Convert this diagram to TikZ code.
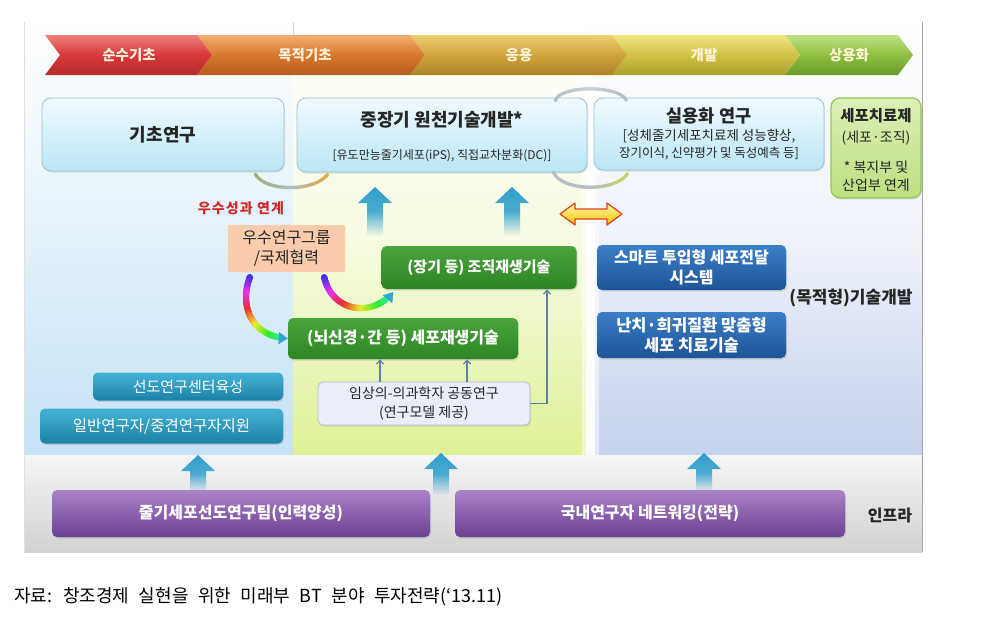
\documentclass[tikz,border=0pt]{standalone}
\usepackage{fontspec}
\setmainfont{Noto Sans CJK KR}
\usetikzlibrary{shadows,fadings,decorations.markings,arrows.meta,calc}

\definecolor{txtdark}{HTML}{262626}
\definecolor{lpanelB}{HTML}{C6E2F5}
\definecolor{mpanelT}{HTML}{F6FBE2}
\definecolor{mpanelB}{HTML}{DFF197}
\definecolor{rpanelT}{HTML}{EEF2FA}
\definecolor{rpanelB}{HTML}{C5D2EC}
\definecolor{bandT}{HTML}{F5F5F5}
\definecolor{bandB}{HTML}{D2D2D2}
\definecolor{boxT}{HTML}{F0FAFE}
\definecolor{boxB}{HTML}{BBE6F5}
\definecolor{boxD}{HTML}{9DC3D2}
\definecolor{gboxT}{HTML}{DDF0B6}
\definecolor{gboxB}{HTML}{BCDF80}
\definecolor{gboxD}{HTML}{94C456}
\definecolor{peach}{HTML}{F8CCAD}
\definecolor{dgT}{HTML}{4BA53C}
\definecolor{dgB}{HTML}{2C8424}
\definecolor{blT}{HTML}{3C7EC7}
\definecolor{blB}{HTML}{1D5497}
\definecolor{tlT}{HTML}{45B3D6}
\definecolor{tlB}{HTML}{1B82A6}
\definecolor{puT}{HTML}{A983C8}
\definecolor{puB}{HTML}{6C3F92}
\definecolor{lav}{HTML}{EAEEF8}
\definecolor{lavD}{HTML}{B2BDD6}
\definecolor{arrowblue}{HTML}{2F9ECC}
\definecolor{redtxt}{HTML}{D22828}
\definecolor{thinblue}{HTML}{5A82A6}
\definecolor{chevtxt}{HTML}{FFF3DA}
\definecolor{rbend}{HTML}{2BA6D8}
\definecolor{rdT}{HTML}{EE7F78}\definecolor{rdM}{HTML}{D8383A}\definecolor{rdB}{HTML}{B52A2C}
\definecolor{orT}{HTML}{F2AE70}\definecolor{orM}{HTML}{D8782E}\definecolor{orB}{HTML}{B55D20}
\definecolor{gdT}{HTML}{EDCF72}\definecolor{gdM}{HTML}{D0A33A}\definecolor{gdB}{HTML}{AD8327}
\definecolor{ylT}{HTML}{EDE484}\definecolor{ylM}{HTML}{D0C246}\definecolor{ylB}{HTML}{ABA02E}
\definecolor{grT}{HTML}{C2E088}\definecolor{grM}{HTML}{8EBF40}\definecolor{grB}{HTML}{6B9A2A}
\definecolor{yarT}{HTML}{FFFAA8}\definecolor{yarB}{HTML}{F4C200}\definecolor{yarD}{HTML}{E0401C}
\definecolor{arcG}{HTML}{9AAE66}\definecolor{arcM}{HTML}{B4BEC6}
\definecolor{arcO}{HTML}{E8A435}\definecolor{arcY}{HTML}{CCD55A}

\newcommand\fsz[2]{\fontsize{#1}{#2}\selectfont}

\tikzfading[name=upfade, top color=transparent!0, bottom color=transparent!100, middle color=transparent!15]

\newcommand\chev[5]{%
  \shade[top color=#3, bottom color=#5, middle color=#4]
    (#1,35) -- (#2,35) -- ({#2+15},55) -- (#2,75) -- (#1,75) -- ({#1+15},55) -- cycle;}

\newcommand\blockup[3]{%
  \fill[arrowblue, path fading=upfade] (#1,#2) -- ({#1+17},{#2+16}) -- ({#1+8},{#2+16})
    -- ({#1+8},#3) -- ({#1-8},#3) -- ({#1-8},{#2+16}) -- ({#1-17},{#2+16}) -- cycle;}

\tikzset{
  base/.style={inner sep=0pt, text=txtdark},
  topbox/.style={base, rounded corners=9pt, draw=boxD, line width=0.8pt,
    top color=boxT, bottom color=boxB,
    drop shadow={opacity=0.22, shadow xshift=1pt, shadow yshift=-1.5pt}},
  greenbox/.style={base, rounded corners=9pt, draw=gboxD, line width=1.2pt,
    top color=gboxT, bottom color=gboxB,
    drop shadow={opacity=0.2, shadow xshift=1pt, shadow yshift=-1.5pt}},
  peachbox/.style={base, rounded corners=2pt, fill=peach, align=center},
  dgbox/.style={base, rounded corners=5pt, top color=dgT, bottom color=dgB, text=white,
    drop shadow={opacity=0.25, shadow xshift=1pt, shadow yshift=-1.5pt}},
  blbox/.style={base, rounded corners=5pt, top color=blT, bottom color=blB, text=white, align=center,
    drop shadow={opacity=0.25, shadow xshift=1pt, shadow yshift=-1.5pt}},
  tlbox/.style={base, rounded corners=5pt, top color=tlT, bottom color=tlB, text=white,
    drop shadow={opacity=0.25, shadow xshift=1pt, shadow yshift=-1.5pt}},
  pubox/.style={base, rounded corners=5pt, top color=puT, bottom color=puB, text=white,
    drop shadow={opacity=0.25, shadow xshift=1pt, shadow yshift=-1.5pt}},
  lavbox/.style={base, rounded corners=5pt, draw=lavD, line width=0.8pt, fill=lav, align=center,
    drop shadow={opacity=0.2, shadow xshift=1pt, shadow yshift=-1.5pt}},
  chevlabel/.style={base, text=chevtxt, font=\fsz{14.5}{15}\bfseries},
  thinarr/.style={draw=thinblue, line width=1.2pt, -{Straight Barb[length=4pt,width=7pt]}},
  rainbow/.style={postaction={decorate,decoration={markings,
    mark=between positions 0 and 0.88 step 0.8pt with {%
      \pgfmathsetmacro\rbt{\pgfkeysvalueof{/pgf/decoration/mark info/distance from start}/\pgfdecoratedpathlength}%
      \pgfmathsetmacro\rbh{mod(240+300*\rbt,360)}%
      \definecolor{rbc}{Hsb}{\rbh,0.8,0.92}%
      \fill[rbc] (0,0) circle (3.2pt);},
    mark=at position 1 with {\arrow[color=rbend]{Triangle[length=9pt,width=12pt]}}}}},
  grayarc/.style n args={3}{postaction={decorate,decoration={markings,
    mark=between positions 0 and 1 step 0.8pt with {%
      \pgfmathsetmacro\rbt{100*\pgfkeysvalueof{/pgf/decoration/mark info/distance from start}/\pgfdecoratedpathlength}%
      \pgfmathsetmacro\mxa{max(0,min(100,2*\rbt))}%
      \pgfmathsetmacro\mxb{max(0,min(100,2*\rbt-100))}%
      \colorlet{gtmp}{#2!\mxa!#1}%
      \colorlet{gac}{#3!\mxb!gtmp}%
      \fill[gac] (0,0) circle (1.8pt);}}}},
}

\begin{document}
\begin{tikzpicture}[x=1pt,y=-1pt]
\useasboundingbox (0,0) rectangle (990,621);
\fill[white] (0,0) rectangle (990,621);

% panels
\shade[top color=white, bottom color=lpanelB] (24,22) rectangle (293,455);
\shade[top color=white, bottom color=mpanelB, middle color=mpanelT] (293,22) rectangle (590,455);
\shade[top color=white, bottom color=rpanelB, middle color=rpanelT] (590,22) rectangle (922,455);
\shade[top color=bandT, bottom color=bandB] (24,455) rectangle (922,552);
\fill[white, opacity=0.5] (582,80) rectangle (599,455);
\fill[white, opacity=0.9] (586,80) rectangle (595,455);
\draw[black!35, line width=0.8pt] (922,22) -- (922,552);
\draw[black!12] (24,22) -- (24,552);
\draw[black!15] (293,22) -- (293,36);

% process chevrons
\chev{785}{898}{grT}{grM}{grB}
\chev{612}{785}{ylT}{ylM}{ylB}
\chev{410}{612}{gdT}{gdM}{gdB}
\chev{197}{410}{orT}{orM}{orB}
\chev{45}{197}{rdT}{rdM}{rdB}
\node[chevlabel] (ch1) at (129,55) {순수기초};
\node[chevlabel] (ch2) at (305,55) {목적기초};
\node[chevlabel] (ch3) at (519,55) {응용};
\node[chevlabel] (ch4) at (704,55) {개발};
\node[chevlabel] (ch5) at (849,55) {상용화};

% block up arrows
\blockup{375}{187}{236}
\blockup{512}{187}{236}
\blockup{198}{455}{492}
\blockup{441}{453}{495}
\blockup{704}{453}{492}

% yellow double arrow
\shadedraw[top color=yarT, bottom color=yarB, draw=yarD, line width=1.2pt, line join=round]
  (560,214) -- (575,203) -- (575,209) -- (607,209) -- (607,203) -- (622,214)
  -- (607,225) -- (607,219) -- (575,219) -- (575,225) -- cycle;

% top boxes
\node[topbox, minimum width=242, minimum height=73] (kicho) at (163,134.5) {\fsz{18}{18}\bfseries 기초연구};
\node[topbox, minimum width=290, minimum height=74] (jung) at (442,135) {};
\node[base, font=\fsz{18}{18}\bfseries] (jungA) at (442,120) {중장기 원천기술개발*};
\node[base, font=\fsz{12}{12}] (jungB) at (442,156) {[유도만능줄기세포(iPS), 직접교차분화(DC)]};
\node[topbox, minimum width=230, minimum height=72] (silyong) at (709,134) {};
\node[base, font=\fsz{17.5}{18}\bfseries] (silA) at (709,116) {실용화 연구};
\node[base, font=\fsz{13.5}{14}] (silB) at (709,136) {[성체줄기세포치료제 성능향상,};
\node[base, font=\fsz{12.5}{13}] (silC) at (709,154) {장기이식, 신약평가 및 독성예측 등]};
\node[greenbox, minimum width=90, minimum height=100] (cell) at (876,148) {};
\node[base, font=\fsz{15.5}{16}\bfseries] (cellA) at (876,116) {세포치료제};
\node[base, font=\fsz{14}{14}] (cellB) at (876,138) {(세포·조직)};
\node[base, font=\fsz{14}{14}] (cellC) at (876,167) {* 복지부 및};
\node[base, font=\fsz{14}{14}] (cellD) at (876,185) {산업부 연계};

% middle
\node[base, font=\fsz{14}{14}\bfseries\addfontfeature{LetterSpace=8}, text=redtxt] (link) at (241,208) {우수성과 연계};
\node[peachbox, minimum width=117, minimum height=47, font=\fsz{16}{20}] (usu) at (286.5,248.5) {우수연구그룹\\/국제협력};
\node[dgbox, minimum width=195, minimum height=43, font=\fsz{15}{15}\bfseries] (jojik) at (479,267.5) {(장기 등) 조직재생기술};
\node[dgbox, minimum width=230, minimum height=41, font=\fsz{16}{16}\bfseries] (sepo) at (403,338.5) {(뇌신경·간 등) 세포재생기술};
\node[lavbox, minimum width=212, minimum height=43, font=\fsz{14}{19}] (imsang) at (424,403.5) {임상의-의과학자 공동연구\\(연구모델 제공)};

% right
\node[blbox, minimum width=189, minimum height=45, font=\fsz{16}{20}\bfseries] (smart) at (691.5,267.5) {스마트 투입형 세포전달\\시스템};
\node[blbox, minimum width=189, minimum height=46, font=\fsz{16.5}{20}\bfseries] (nanchi) at (691.5,335) {난치·희귀질환 맞춤형\\세포 치료기술};
\node[base, font=\fsz{17}{17}\bfseries] (mokjeok) at (851,298) {(목적형)기술개발};

% left
\node[tlbox, minimum width=190, minimum height=28, font=\fsz{15}{15}] (seondo) at (188,386.5) {선도연구센터육성};
\node[tlbox, minimum width=243, minimum height=35, font=\fsz{15.5}{16}] (ilban) at (161.5,426) {일반연구자/중견연구자지원};

% bottom
\node[pubox, minimum width=378, minimum height=47, font=\fsz{16}{16}\bfseries] (team) at (241,513.5) {줄기세포선도연구팀(인력양성)};
\node[pubox, minimum width=390, minimum height=47, font=\fsz{16}{16}\bfseries] (net) at (650,513.5) {국내연구자 네트워킹(전략)};
\node[base, font=\fsz{16}{16}\bfseries] (infra) at (890,516) {인프라};

% connectors
\coordinate (xa) at (380,0);
\coordinate (xb) at (467,0);
\coordinate (xc) at (547,0);
\draw[thinarr] (imsang.north -| xa) -- (sepo.south -| xa);
\draw[thinarr] (imsang.north -| xb) -- (sepo.south -| xb);
\draw[thinarr] (imsang.east) -| (jojik.south -| xc);

\path[rainbow] ($(usu.south west)+(22,5)$) .. controls (238,310) and (255,337) .. (sepo.west);
\path[rainbow] ($(usu.south east)+(-21,5)$) .. controls (332,312) and (372,318) .. ($(jojik.south west)+(12,3)$);

\path[grayarc={arcG}{arcM}{arcO}] ($(kicho.south east)+(-29,3)$) .. controls (266,192) and (314,192) .. ($(jung.south west)+(31,2)$);
\path[grayarc={arcM}{arcM!70!white}{arcM}] ($(jung.north east)+(-32,3)$) .. controls (560,85) and (620,85) .. ($(silyong.north west)+(33,3)$);
\path[grayarc={arcM}{arcM}{arcY}] ($(jung.south east)+(-34,0)$) .. controls (563,192) and (616,192) .. ($(silyong.south west)+(34,3)$);

% source
\node[base, anchor=west, font=\fsz{18}{18}, text=black] (src) at (14,597) {\spaceskip=9.5pt\relax 자료: 창조경제 실현을 위한 미래부 BT 분야 투자전략(‘13.11)};
\end{tikzpicture}
\end{document}
